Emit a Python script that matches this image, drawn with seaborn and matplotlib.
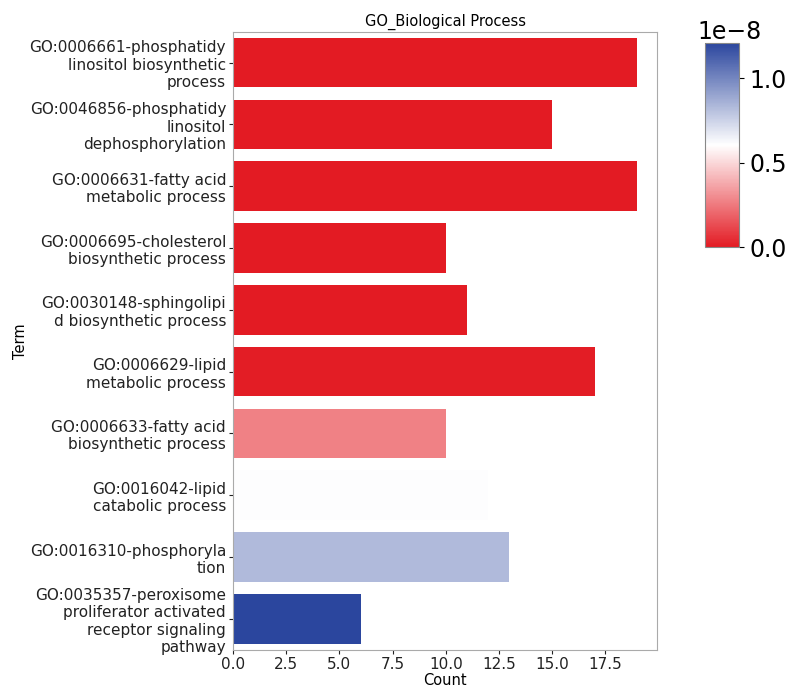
import textwrap
import pandas as pd
import matplotlib
matplotlib.use("Agg")
import matplotlib.pyplot as plt
import seaborn as sns
from matplotlib.colors import LinearSegmentedColormap, Normalize
from matplotlib.cm import ScalarMappable

terms = [
    "GO:0006661-phosphatidylinositol biosynthetic process",
    "GO:0046856-phosphatidylinositol dephosphorylation",
    "GO:0006631-fatty acid metabolic process",
    "GO:0006695-cholesterol biosynthetic process",
    "GO:0030148-sphingolipid biosynthetic process",
    "GO:0006629-lipid metabolic process",
    "GO:0006633-fatty acid biosynthetic process",
    "GO:0016042-lipid catabolic process",
    "GO:0016310-phosphorylation",
    "GO:0035357-peroxisome proliferator activated receptor signaling pathway",
]
counts = [19, 15, 19, 10, 11, 17, 10, 12, 13, 6]
pvalues = [2e-14, 5e-13, 8e-13, 3e-12, 1e-11, 6e-11, 2.7e-9, 6.1e-9, 8.3e-9, 1.21e-8]

df = pd.DataFrame({"Term": terms, "Count": counts, "PValue": pvalues})
df["Label"] = [textwrap.fill(t, 22, break_on_hyphens=False) for t in df["Term"]]

cmap = LinearSegmentedColormap.from_list("rwb", ["#e31b23", "#ffffff", "#2b469e"])
norm = Normalize(vmin=0, vmax=max(pvalues))
palette = {lab: cmap(norm(p)) for lab, p in zip(df["Label"], df["PValue"])}

fig = plt.figure(figsize=(7.9, 6.89), dpi=100)
ax = fig.add_axes([0.295, 0.057, 0.537, 0.897])

sns.barplot(data=df, x="Count", y="Label", hue="Label", palette=palette,
            dodge=False, legend=False, saturation=1, ax=ax)

ax.set_title("GO_Biological Process", fontsize=10.5, pad=4)
ax.set_xlabel("Count", fontsize=10.5, labelpad=1)
ax.set_ylabel("Term", fontsize=10.5, labelpad=1)
ax.tick_params(axis="both", labelsize=11, colors="#222222", length=3, pad=2)
for sp in ax.spines.values():
    sp.set_edgecolor("#aaaaaa")

cax = fig.add_axes([0.892, 0.641, 0.044, 0.297])
sm = ScalarMappable(norm=norm, cmap=cmap)
cb = fig.colorbar(sm, cax=cax)
cb.set_ticks([0, 0.5e-8, 1.0e-8])
cb.ax.tick_params(labelsize=17)
off = cb.ax.yaxis.get_offset_text()
off.set_fontsize(17)
off.set_horizontalalignment("left")
off.set_x(-0.2)
cb.outline.set_edgecolor("#888888")

plt.savefig("out.png", dpi=100)
